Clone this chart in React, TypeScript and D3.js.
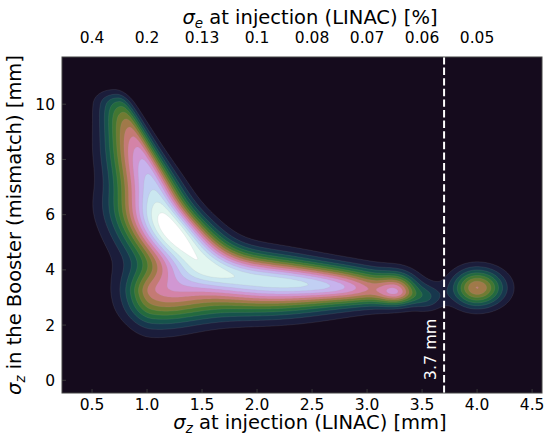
import React, { useMemo } from "react";
import * as d3 from "d3";

// Figure size and plot rectangle (pixels)
const W = 546;
const H = 437;
const PLOT = { left: 62, right: 542, top: 57, bottom: 393 };

// Axis domains
const X_DOMAIN: [number, number] = [0.227, 4.59];
const Y_DOMAIN: [number, number] = [-0.46, 11.71];

// Tick values and labels
const xTicks = [0.5, 1.0, 1.5, 2.0, 2.5, 3.0, 3.5, 4.0, 4.5];
const yTicks = [0, 2, 4, 6, 8, 10];
const topTickPositions = [0.5, 1.0, 1.5, 2.0, 2.5, 3.0, 3.5, 4.0];
const topTickLabels = ["0.4", "0.2", "0.13", "0.1", "0.08", "0.07", "0.06", "0.05"];

// Reference bunch length marker
const markerX = 3.7;
const markerLabel = "3.7 mm";

// Density kernels (summed): centre (x, y), left/right and down/up spreads,
// weight, and shear (shearX: x offset per unit y, shearY: y offset per unit x).
// Groups: arm running into the central peak, horizontal ridge, corner and
// lower skirt, isolated clusters.
const kernelX = [
  0.76, 0.805, 0.85, 0.895, 0.94, 0.985, 1.03, 1.075, 1.12, 1.15, 1.21, 1.29, 1.38, 1.47,
  1.2, 1.45, 1.7, 1.95, 2.2, 2.45, 2.7, 2.95, 3.1,
  1.05, 1.6,
  3.28, 3.55, 4.0,
];
const kernelY = [
  10.0, 9.55, 9.1, 8.65, 8.2, 7.75, 7.3, 6.85, 6.4, 5.95, 5.5, 5.05, 4.6, 4.2,
  3.65, 3.68, 3.68, 3.63, 3.56, 3.5, 3.42, 3.33, 3.27,
  3.15, 2.6,
  3.2, 3.0, 3.35,
];
const kernelSXL = [
  0.13, 0.15, 0.16, 0.18, 0.2, 0.21, 0.22, 0.23, 0.25, 0.27, 0.28, 0.29, 0.32, 0.34,
  0.3, 0.3, 0.3, 0.3, 0.3, 0.3, 0.3, 0.3, 0.3,
  0.16, 0.5,
  0.12, 0.1, 0.15,
];
const kernelSXR = [
  0.07, 0.08, 0.09, 0.1, 0.11, 0.125, 0.14, 0.155, 0.17, 0.2, 0.22, 0.24, 0.26, 0.28,
  0.3, 0.3, 0.3, 0.3, 0.3, 0.3, 0.3, 0.3, 0.2,
  0.3, 0.8,
  0.12, 0.1, 0.165,
];
const kernelSYD = [
  0.55, 0.55, 0.55, 0.55, 0.55, 0.55, 0.55, 0.55, 0.55, 0.55, 0.55, 0.55, 0.55, 0.55,
  0.8, 0.79, 0.74, 0.68, 0.65, 0.56, 0.46, 0.4, 0.36,
  0.85, 0.45,
  0.31, 0.33, 0.46,
];
const kernelSYU = [
  0.3, 0.55, 0.55, 0.55, 0.55, 0.55, 0.55, 0.55, 0.55, 0.55, 0.55, 0.55, 0.55, 0.55,
  0.55, 0.6, 0.62, 0.64, 0.6, 0.52, 0.48, 0.48, 0.48,
  0.5, 0.5,
  0.45, 0.33, 0.46,
];
const kernelW = [
  0.42, 0.45, 0.53, 0.63, 0.7, 0.76, 0.8, 0.85, 0.9, 1.02, 1.1, 1.08, 0.95, 0.6,
  0.55, 0.5, 0.7, 0.93, 0.94, 0.88, 0.8, 0.62, 0.45,
  1.0, 0.25,
  1.2, 0.45, 1.6,
];
const kernelShearX = [
  -0.1, -0.1, -0.1, -0.1, -0.1, -0.1, -0.1, -0.1, -0.12, -0.17, -0.17, -0.17, -0.17, -0.17,
  0, 0, 0, 0, 0, 0, 0, 0, 0,
  0, 0,
  0, 0, 0,
];
const kernelShearY = [
  0, 0, 0, 0, 0, 0, 0, 0, 0, 0, 0, 0, 0, 0,
  0, -0.1, -0.25, -0.25, -0.25, -0.25, -0.25, -0.25, -0.25,
  0, 0,
  0, 0, 0,
];

const N_LEVELS = 16;
const STEP = 2;

function density(x: number, y: number): number {
  let s = 0;
  for (let k = 0; k < kernelX.length; k++) {
    const ox = x - kernelX[k];
    const oy = y - kernelY[k];
    const du = ox - kernelShearX[k] * oy;
    const dv = oy - kernelShearY[k] * ox;
    const u = du / (du < 0 ? kernelSXL[k] : kernelSXR[k]);
    const v = dv / (dv < 0 ? kernelSYD[k] : kernelSYU[k]);
    s += kernelW[k] * Math.exp(-(u * u + v * v) / 2);
  }
  return s;
}

const FONT = "'DejaVu Sans', sans-serif";

export default function App() {
  const x = d3.scaleLinear().domain(X_DOMAIN).range([PLOT.left, PLOT.right]);
  const y = d3.scaleLinear().domain(Y_DOMAIN).range([PLOT.bottom, PLOT.top]);

  const bands = useMemo(() => {
    const nx = Math.ceil((PLOT.right - PLOT.left) / STEP) + 1;
    const ny = Math.ceil((PLOT.bottom - PLOT.top) / STEP) + 1;
    const values = new Array(nx * ny);
    let max = 0;
    for (let j = 0; j < ny; j++) {
      const dy = y.invert(PLOT.top + j * STEP);
      for (let i = 0; i < nx; i++) {
        const dx = x.invert(PLOT.left + i * STEP);
        const v = density(dx, dy);
        values[j * nx + i] = v;
        if (v > max) max = v;
      }
    }
    const thresholds = d3.range(1, N_LEVELS).map((k) => (k / N_LEVELS) * max);
    const contours = d3.contours().size([nx, ny]).thresholds(thresholds)(values);
    const path = d3.geoPath(
      d3.geoIdentity().scale(STEP).translate([PLOT.left - STEP / 2, PLOT.top - STEP / 2])
    );
    return contours.map((c, k) => ({
      d: path(c as any) || "",
      fill: d3.interpolateCubehelixDefault((k + 2) / N_LEVELS),
    }));
  }, []);

  const bg = d3.interpolateCubehelixDefault(1 / N_LEVELS);

  return (
    <svg
      width={W}
      height={H}
      style={{ position: "absolute", left: 0, top: 0, display: "block", background: "#fff" }}
      fontFamily={FONT}
    >
      <defs>
        <clipPath id="plot-clip">
          <rect x={PLOT.left} y={PLOT.top} width={PLOT.right - PLOT.left} height={PLOT.bottom - PLOT.top} />
        </clipPath>
      </defs>
      <rect x={PLOT.left} y={PLOT.top} width={PLOT.right - PLOT.left} height={PLOT.bottom - PLOT.top} fill={bg} />
      <g clipPath="url(#plot-clip)">
        {bands.map((b, i) => (
          <path key={i} d={b.d} fill={b.fill} stroke="#a0a0a0" strokeOpacity={0.25} strokeWidth={0.5} />
        ))}
        <line
          x1={x(markerX)}
          x2={x(markerX)}
          y1={PLOT.top}
          y2={PLOT.bottom}
          stroke="#fff"
          strokeWidth={2}
          strokeDasharray="7.4,3.2"
        />
        <text
          transform={`translate(${x(markerX) - 8},${y(0)}) rotate(-90)`}
          fill="#fff"
          fontSize={16}
          textAnchor="start"
        >
          {markerLabel}
        </text>
      </g>
      {/* inward ticks */}
      {xTicks.map((t) => (
        <line key={"xt" + t} x1={x(t)} x2={x(t)} y1={PLOT.bottom} y2={PLOT.bottom - 4} stroke="#3a3a3a" />
      ))}
      {yTicks.map((t) => (
        <line key={"yt" + t} x1={PLOT.left} x2={PLOT.left + 4} y1={y(t)} y2={y(t)} stroke="#3a3a3a" />
      ))}
      <rect
        x={PLOT.left}
        y={PLOT.top}
        width={PLOT.right - PLOT.left}
        height={PLOT.bottom - PLOT.top}
        fill="none"
        stroke="#444"
        strokeWidth={1}
      />
      {/* bottom axis */}
      {xTicks.map((t) => (
        <text key={"xl" + t} x={x(t)} y={410} fontSize={15.5} textAnchor="middle" fill="#000">
          {t.toFixed(1)}
        </text>
      ))}
      <text x={(PLOT.left + PLOT.right) / 2 + 8} y={429} fontSize={19.5} textAnchor="middle" fill="#000">
        <tspan fontStyle="italic">σ</tspan>
        <tspan fontStyle="italic" fontSize={13.5} dy={4}>z</tspan>
        <tspan dy={-4}> at injection (LINAC) [mm]</tspan>
      </text>
      {/* top axis */}
      {topTickPositions.map((t, i) => (
        <text key={"tl" + t} x={x(t)} y={43} fontSize={15.5} textAnchor="middle" fill="#000">
          {topTickLabels[i]}
        </text>
      ))}
      <text x={(PLOT.left + PLOT.right) / 2 + 8} y={24} fontSize={19.5} textAnchor="middle" fill="#000">
        <tspan fontStyle="italic">σ</tspan>
        <tspan fontStyle="italic" fontSize={13.5} dy={4}>e</tspan>
        <tspan dy={-4}> at injection (LINAC) [%]</tspan>
      </text>
      {/* left axis */}
      {yTicks.map((t) => (
        <text key={"yl" + t} x={55} y={y(t) + 5.5} fontSize={15.5} textAnchor="end" fill="#000">
          {t}
        </text>
      ))}
      <text
        transform={`translate(21,${(PLOT.top + PLOT.bottom) / 2}) rotate(-90)`}
        fontSize={19.5}
        textAnchor="middle"
        fill="#000"
      >
        <tspan fontStyle="italic">σ</tspan>
        <tspan fontStyle="italic" fontSize={13.5} dy={4}>z</tspan>
        <tspan dy={-4}> in the Booster (mismatch) [mm]</tspan>
      </text>
    </svg>
  );
}
